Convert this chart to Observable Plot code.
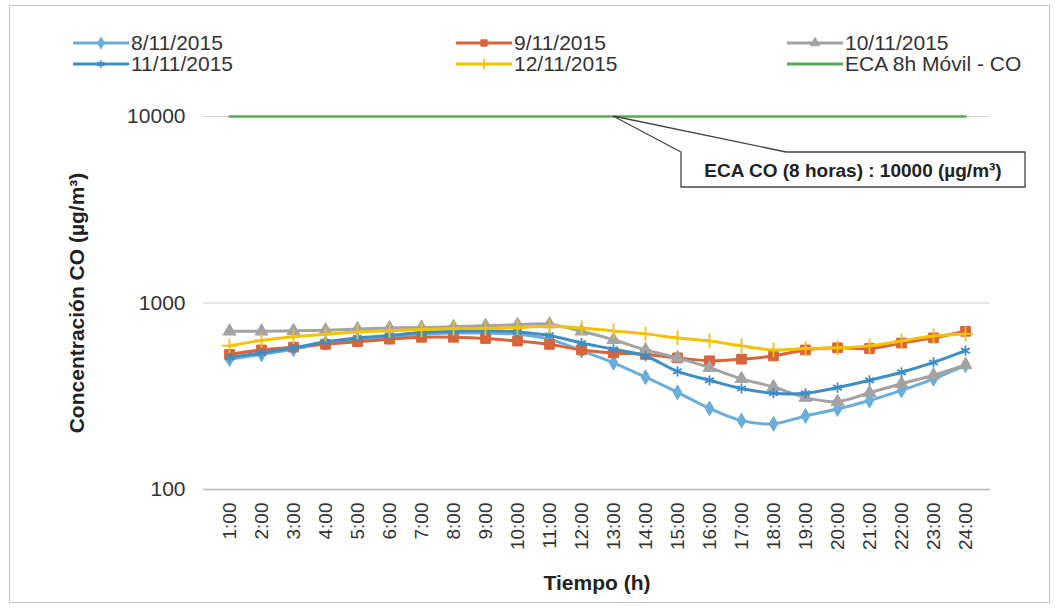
<!DOCTYPE html>
<html><head><meta charset="utf-8">
<script src="https://cdn.jsdelivr.net/npm/d3@7"></script>
<script src="https://cdn.jsdelivr.net/npm/@observablehq/plot@0.6"></script>
<style>
body{margin:0;background:#fff;font-family:"Liberation Sans",Arial,sans-serif;}
#wrap{position:relative;width:1061px;height:608px;overflow:hidden;background:#fff;}
#frame{position:absolute;left:9px;top:5px;width:1041px;height:598px;border:1px solid #c4c4c4;box-sizing:border-box;}
#chart{position:absolute;left:0;top:0;}
.leg{position:absolute;display:flex;align-items:center;font-size:21px;color:#333;white-space:nowrap;height:20px;}
.leg svg{margin-right:2px;}
</style></head><body>
<div id="wrap"><div id="frame"></div><div id="chart"></div><div id="legend"></div></div>
<script>
const hours = ["1:00","2:00","3:00","4:00","5:00","6:00","7:00","8:00","9:00","10:00","11:00","12:00",
               "13:00","14:00","15:00","16:00","17:00","18:00","19:00","20:00","21:00","22:00","23:00","24:00"];
const co_08_11 = [500, 530, 565, 610, 635, 655, 680, 690, 690, 680, 640, 555, 478, 400, 332, 272, 234, 225, 248, 270, 300, 340, 392, 465];
const co_09_11 = [530, 560, 580, 600, 620, 640, 655, 655, 645, 625, 600, 560, 540, 530, 508, 490, 500, 520, 560, 575, 570, 610, 650, 705];
const co_10_11 = [705, 705, 710, 715, 725, 735, 740, 745, 755, 765, 770, 705, 635, 560, 508, 450, 392, 355, 311, 296, 330, 369, 410, 465];
const co_11_11 = [510, 540, 575, 620, 650, 670, 695, 705, 710, 700, 670, 610, 565, 520, 430, 385, 348, 328, 328, 352, 385, 425, 480, 555];
const co_12_11 = [590, 630, 660, 680, 700, 710, 720, 730, 730, 740, 750, 735, 708, 683, 650, 626, 589, 560, 570, 575, 589, 626, 666, 683];
const ecaLimit = 10000;
const yTicks = [100, 1000, 10000];
const seriesNames = ["8/11/2015", "9/11/2015", "10/11/2015", "11/11/2015", "12/11/2015"];
const ecaName = "ECA 8h Móvil - CO";
const calloutHour = "13:00";
const calloutText = "ECA CO (8 horas) : 10000 (µg/m³)";
const yLabel = "Concentración CO (µg/m³)";
const xLabel = "Tiempo (h)";

const seriesValues = [co_08_11, co_09_11, co_10_11, co_11_11, co_12_11];
const styles = [
  {color:"#6aaedb", symbol:"diamond", filled:true, r:4.5, d3s:d3.symbolDiamond},
  {color:"#d8643c", symbol:"square", filled:true, r:5.5, d3s:d3.symbolSquare},
  {color:"#a3a3a3", symbol:"triangle", filled:true, r:4.8, d3s:d3.symbolTriangle},
  {color:"#3d8ec6", symbol:"asterisk", filled:false, r:4.8, d3s:d3.symbolAsterisk},
  {color:"#f4c300", symbol:"plus", filled:false, r:4.8, d3s:d3.symbolPlus}
];
const ecaColor = "#5aa85a";

const rowsFor = (vals, name) => hours.map((h, i) => ({hour: h, value: vals[i], name}));

function callout(index, scales) {
  const ax = scales.x(calloutHour), ay = scales.y(ecaLimit);
  const L = ax + 68, R = ax + 412, T = ay + 36, B = ay + 71, W = ax + 173;
  const g = d3.create("svg:g");
  g.append("path")
    .attr("d", `M${L},${T}L${ax},${ay}L${W},${T}L${R},${T}L${R},${B}L${L},${B}Z`)
    .attr("fill", "#fff").attr("stroke", "#444").attr("stroke-width", 1.3);
  g.append("text")
    .attr("x", (L + R) / 2).attr("y", (T + B) / 2 + 1)
    .attr("text-anchor", "middle").attr("dominant-baseline", "central")
    .attr("font-weight", "bold").attr("font-size", 19).attr("fill", "#222")
    .text(calloutText);
  return g.node();
}

const marks = [
  Plot.ruleY([1000, 10000], {stroke: "#d2d2d2", strokeWidth: 1.2}),
  Plot.ruleY([100], {stroke: "#b8b8b8", strokeWidth: 1.5}),
  Plot.axisY({ticks: yTicks, tickFormat: d => String(d), tickSize: 0, tickPadding: 18, fontSize: 21, label: null}),
  Plot.axisX({tickRotate: -90, tickSize: 0, tickPadding: 13, fontSize: 19, label: null}),
  Plot.text([xLabel], {frameAnchor: "bottom", dy: 94, lineAnchor: "middle", fontWeight: "bold", fontSize: 21, fill: "#222"}),
  Plot.text([yLabel], {frameAnchor: "left", dx: -126, rotate: -90, textAnchor: "middle", lineAnchor: "middle", fontWeight: "bold", fontSize: 21, fill: "#222"})
];
seriesValues.forEach((vals, i) => {
  const s = styles[i];
  const data = rowsFor(vals, seriesNames[i]);
  marks.push(Plot.line(data, {x: "hour", y: "value", stroke: s.color, strokeWidth: 3, curve: "catmull-rom"}));
  marks.push(Plot.dot(data, s.filled
    ? {x: "hour", y: "value", symbol: s.symbol, r: s.r, fill: s.color, stroke: s.color, strokeWidth: 1}
    : {x: "hour", y: "value", symbol: s.symbol, r: s.r, stroke: s.color, strokeWidth: 1.8}));
});
marks.push(Plot.line(hours, {x: d => d, y: () => ecaLimit, stroke: ecaColor, strokeWidth: 2.5}));
marks.push(callout);

const chart = Plot.plot({
  width: 1061, height: 608,
  marginLeft: 203, marginRight: 71, marginTop: 116, marginBottom: 119,
  style: {fontFamily: "Liberation Sans, Arial, sans-serif", color: "#333", background: "transparent", overflow: "visible"},
  x: {type: "point", domain: hours, padding: 0.5},
  y: {type: "log", domain: [100, 10000]},
  marks
});
document.getElementById("chart").appendChild(chart);

// Legend
const legendItems = seriesNames.map((n, i) => ({name: n, ...styles[i]}))
  .concat([{name: ecaName, color: ecaColor, symbol: null}]);
const colX = [73, 456, 787], rowY = [43, 64];
const legend = document.getElementById("legend");
legendItems.forEach((it, k) => {
  const col = k % 3, row = Math.floor(k / 3);
  const div = document.createElement("div");
  div.className = "leg";
  div.style.left = colX[col] + "px";
  div.style.top = (rowY[row] - 10) + "px";
  const svg = d3.create("svg").attr("width", 56).attr("height", 18);
  svg.append("line").attr("x1", 0).attr("x2", 56).attr("y1", 9).attr("y2", 9)
    .attr("stroke", it.color).attr("stroke-width", 3);
  if (it.d3s) {
    const p = d3.symbol(it.d3s, 40)();
    svg.append("path").attr("d", p).attr("transform", "translate(28,9)")
      .attr("fill", it.filled ? it.color : "none").attr("stroke", it.color).attr("stroke-width", it.filled ? 1 : 1.6);
  }
  div.appendChild(svg.node());
  const span = document.createElement("span");
  span.textContent = it.name;
  div.appendChild(span);
  legend.appendChild(div);
});
</script>
</body></html>
